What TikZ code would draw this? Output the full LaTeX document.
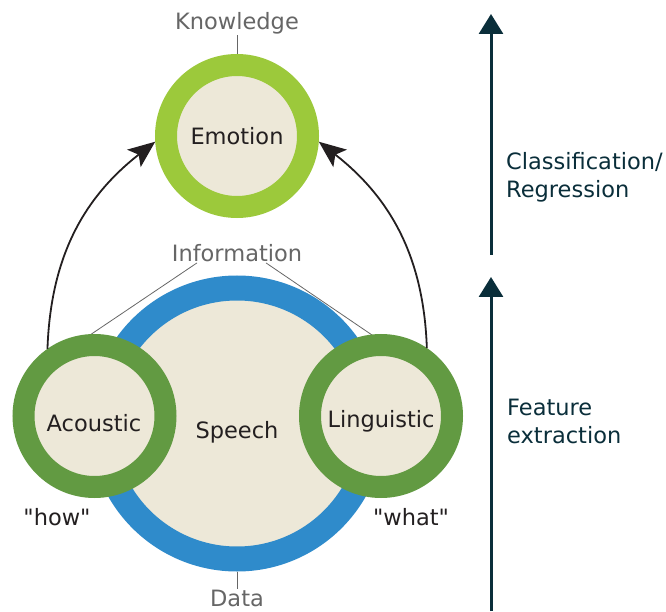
\documentclass[tikz,border=0pt]{standalone}
\usepackage{fontspec}
\setmainfont{DejaVu Sans}
\newfontfamily\quotefont{DejaVu Sans}
\usetikzlibrary{arrows.meta}
\definecolor{beige}{HTML}{EDE8D8}
\definecolor{lightgreen}{HTML}{9CC93B}
\definecolor{darkgreen}{HTML}{629A42}
\definecolor{speechblue}{HTML}{2F8BCB}
\definecolor{inkdark}{HTML}{231F20}
\definecolor{inkgrey}{HTML}{666666}
\definecolor{inkteal}{HTML}{0A2E3A}

\begin{document}
\begin{tikzpicture}[x=1pt,y=1pt,
  font=\fontsize{22.5}{28}\selectfont,
  ring/.style={circle,fill=beige,line width=22pt,minimum size=142pt,inner sep=0pt,text=inkdark},
  ringtext/.style={text=inkdark,inner sep=1pt},
  level/.style={text=inkgrey,inner sep=1pt},
  tick/.style={draw=inkgrey,line width=0.8pt},
  feed/.style={draw=inkdark,line width=1.8pt,-{Stealth[length=27pt,width=22pt,inset=6pt]}},
  axis/.style={draw=inkteal,line width=3pt,-{Triangle[length=20pt,width=24pt]}},
  side/.style={text=inkteal,align=left,anchor=west,inner sep=0pt}]
\useasboundingbox (0,0) rectangle (666,611);
\node[ring,draw=speechblue,line width=25pt,minimum size=271pt] (speech) at (237,187.5) {};
\node[ringtext] (speechlbl) at (237,179) {Speech};
\node[ring,draw=lightgreen] (emotion) at (237,475) {Emotion};
\node[level] (knowledge) at (237,588) {Knowledge};
\node[level] (info) at (237,358) {Information};
\node[level,anchor=north] (data) at (237,22) {Data};
\draw[tick] ([xshift=-40pt]info.south) -- (90,276);
\draw[tick] ([xshift=29pt]info.south) -- (372,276);
\node[ring,draw=darkgreen] (acoustic) at (94.5,195) {};
\node[ringtext] (acousticlbl) at (94,188) {Acoustic};
\node[ring,draw=darkgreen] (linguistic) at (381,195) {};
\node[ringtext] (linguisticlbl) at (381,190) {Linguistic};
\draw[tick] (knowledge.south) -- (emotion.north);
\draw[tick] (speech.south) -- (data.north);
\node[text=inkdark,font=\quotefont\fontsize{22.5}{28}\selectfont] (how) at (57,94) {"how"};
\node[text=inkdark,font=\quotefont\fontsize{22.5}{28}\selectfont] (what) at (411,94) {"what"};
% arrows into emotion
\draw[feed] (acoustic.125) to[out=88,in=218] (emotion.184);
\draw[feed] (linguistic.56) to[out=92,in=-38] (emotion.-4);
% axis on the right
\coordinate (axa) at (491,0);
\coordinate (axb) at (491,334);
\coordinate (axc) at (491,356);
\coordinate (axd) at (491,597);
\draw[axis] (axa) -- (axb);
\draw[axis] (axc) -- (axd);
\node[side] (cls) at (506,434) {Classification/\\Regression};
\node[side] (feat) at (507,190) {Feature\\extraction};
\end{tikzpicture}
\end{document}
